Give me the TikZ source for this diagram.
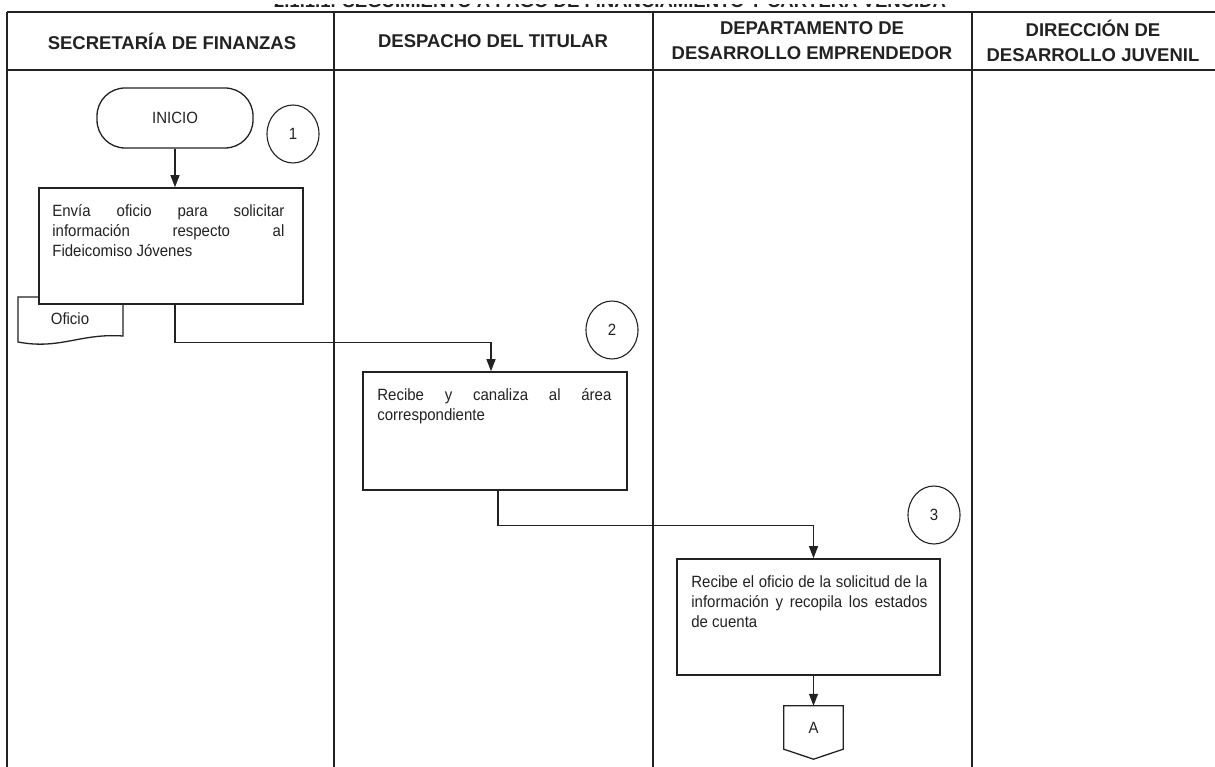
\documentclass[tikz,border=0pt]{standalone}
\usepackage{fontspec}
\setmainfont{Liberation Sans}
\newfontfamily\bodyfont[FakeStretch=0.92]{Liberation Sans}
\usetikzlibrary{shapes.geometric,arrows.meta}
\hyphenpenalty=10000 \exhyphenpenalty=10000 \tolerance=10000
\definecolor{ink}{HTML}{222222}

\tikzset{
  body/.style={font=\bodyfont\fontsize{16.3}{20}\selectfont, text=ink},
  head/.style={font=\fontsize{18.5}{25}\selectfont\bfseries, align=center, text=ink},
  proc/.style={draw=ink, line width=1.6pt, fill=white, minimum width=264, inner sep=0},
  proctext/.style={body, anchor=north west, inner sep=0, text width=234, align=justify},
  terminal/.style={draw=ink, line width=1.3pt, rounded corners=28, minimum width=156, minimum height=60, body},
  stepnum/.style={ellipse, draw=ink, line width=1.1pt, minimum width=52, minimum height=58, inner sep=0, body},
  flow/.style={draw=ink, line width=1.1pt, -{Triangle[length=12pt,width=9pt]}},
  link/.style={draw=ink, line width=1.1pt},
}

\begin{document}
\begin{tikzpicture}[x=1pt, y=-1pt]

  \useasboundingbox (0,0) rectangle (1215,767);

  %%-- TITLE (only its lower edge shows above the top rule) --%%
  \begin{scope}
    \clip (0,4.5) rectangle (1215,10);
    \node[head, anchor=base] (title) at (610,7.5) {2.1.1.1. SEGUIMIENTO A PAGO DE FINANCIAMIENTO Y CARTERA VENCIDA};
  \end{scope}

  %%-- LANE GRID --%%
  \draw[ink, line width=2.6pt] (7,12) -- (1215,12);   % top rule
  \draw[ink, line width=2.6pt] (7,70) -- (1215,70);   % bottom of header row
  \foreach \lx in {7, 334, 653, 972} {
    \draw[ink, line width=1.5pt] (\lx,12) -- (\lx,767);
  }

  %%-- LANE HEADERS --%%
  \node[head] (hfin) at (172,41) {SECRETARÍA DE FINANZAS};
  \node[head] (htit) at (493,41) {DESPACHO DEL TITULAR};
  \node[head] (hemp) at (812,41) {DEPARTAMENTO DE\\DESARROLLO EMPRENDEDOR};
  \node[head] (hjuv) at (1093,41) {DIRECCIÓN DE\\DESARROLLO JUVENIL};

  %%-- STEP 1: SECRETARIA DE FINANZAS --%%
  \node[terminal] (inicio) at (175,118) {INICIO};
  \node[stepnum] (n1) at (293,134) {1};

  % document behind the process box
  \draw[ink, line width=1.3pt] (39,297) -- (18,297) -- (18,342)
    .. controls (60,350) and (80,333) .. (123,336) -- (123,304);
  \node[body] (oficio) at (70,319) {Oficio};

  \node[proc, minimum height=116] (box1) at (171,246) {};
  \node[proctext, text width=232] (box1txt) at ([shift={(14,17)}]box1.north west)
    {Envía oficio para solicitar información respecto al Fideicomiso Jóvenes};

  \draw[flow] (inicio.south) -- (inicio.south |- box1.north);

  %%-- STEP 2: DESPACHO DEL TITULAR --%%
  \node[stepnum] (n2) at (612,330) {2};
  \node[proc, minimum height=118] (box2) at (495,431) {};
  \node[proctext] (box2txt) at ([shift={(15,17)}]box2.north west)
    {Recibe y canaliza al área correspondiente};

  \draw[flow] (inicio.south |- box1.south) -- ++(0,38) -| ([xshift=-4pt]box2.north);

  %%-- STEP 3: DEPARTAMENTO DE DESARROLLO EMPRENDEDOR --%%
  \node[stepnum] (n3) at (934,515) {3};
  \node[proc, minimum width=263, minimum height=116] (box3) at (808.5,617) {};
  \node[proctext, text width=236] (box3txt) at ([shift={(15,17)}]box3.north west)
    {Recibe el oficio de la solicitud de la información y recopila los estados de cuenta};

  % off-page connector
  \node[body, minimum width=59, minimum height=43, inner sep=0] (offa) at (813.5,727.5) {A};
  \draw[ink, line width=1.3pt] (offa.north west) -- (offa.north east) -- (offa.south east)
    -- ([yshift=-10pt]offa.south) -- (offa.south west) -- cycle;

  \draw[flow] ([xshift=3pt]box2.south) -- ++(0,35) -| (box3.north -| offa.north);
  \draw[flow] (box3.south -| offa.north) -- (offa.north);

\end{tikzpicture}
\end{document}
